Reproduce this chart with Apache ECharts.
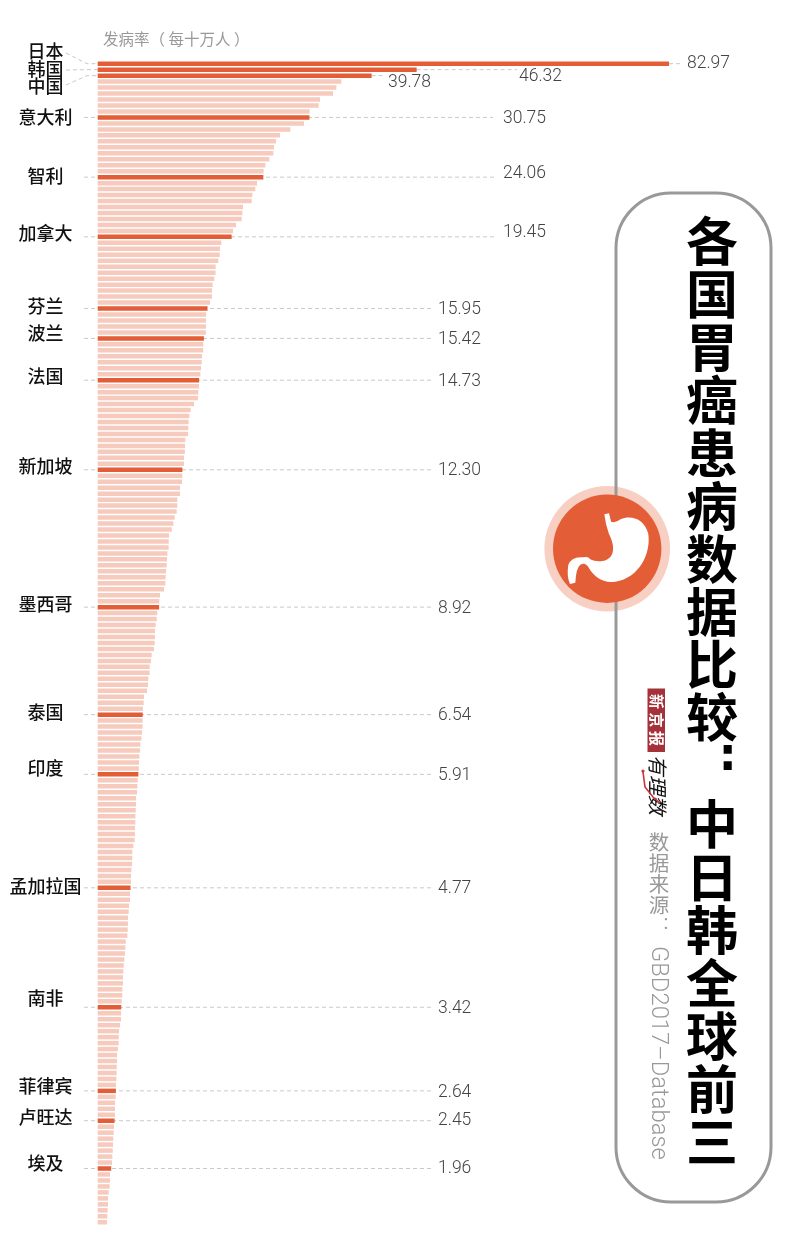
<!DOCTYPE html>
<html>
<head>
<meta charset="utf-8">
<title>各国胃癌患病数据比较</title>
<script src="https://cdn.jsdelivr.net/npm/echarts@6/dist/echarts.min.js"></script>
<style>
  html, body { margin: 0; padding: 0; background: #fff; }
  #chart { width: 800px; height: 1255px; }
</style>
</head>
<body>
<div id="chart"></div>
<script>
// incidence per 100k, one value per country row
const rates = [
  82.97, 46.32, 39.78, 35.38, 34.66, 34.17, 32.28, 32.09, 30.78, 30.75,
  29.96, 27.97, 26.47, 25.90, 25.60, 25.50, 24.93, 24.35, 24.10, 24.06,
  23.14, 22.89, 22.46, 22.36, 21.10, 21.01, 20.91, 20.09, 19.65, 19.45,
  17.96, 17.76, 17.72, 17.52, 17.13, 17.12, 16.94, 16.70, 16.60, 16.59,
  16.31, 15.95, 15.75, 15.73, 15.72, 15.70, 15.42, 15.34, 15.32, 15.15,
  15.10, 15.00, 14.91, 14.73, 14.71, 14.62, 14.57, 13.99, 13.50, 13.31,
  13.21, 13.17, 13.12, 12.73, 12.68, 12.66, 12.54, 12.52, 12.30, 12.29,
  12.25, 11.96, 11.95, 11.57, 11.56, 11.47, 11.18, 10.99, 10.75, 10.36,
  10.31, 10.30, 10.12, 10.07, 10.02, 9.92, 9.87, 9.83, 9.63, 9.05,
  8.95, 8.92, 8.66, 8.57, 8.42, 8.33, 8.32, 8.28, 8.18, 7.84,
  7.74, 7.55, 7.54, 7.36, 7.31, 7.16, 6.73, 6.68, 6.58, 6.54,
  6.53, 6.52, 6.44, 6.34, 6.20, 6.15, 6.05, 6.00, 5.98, 5.91,
  5.81, 5.76, 5.71, 5.57, 5.56, 5.52, 5.47, 5.46, 5.42, 5.41,
  5.37, 5.18, 5.03, 5.02, 4.99, 4.89, 4.84, 4.83, 4.77, 4.70,
  4.69, 4.55, 4.50, 4.40, 4.39, 4.36, 4.31, 4.07, 4.02, 3.97,
  3.87, 3.78, 3.73, 3.68, 3.66, 3.58, 3.57, 3.48, 3.42, 3.39,
  3.38, 3.24, 3.10, 3.05, 3.04, 2.95, 2.81, 2.80, 2.76, 2.75,
  2.71, 2.66, 2.64, 2.61, 2.52, 2.51, 2.50, 2.45, 2.37, 2.32,
  2.27, 2.23, 2.18, 2.13, 2.08, 1.96, 1.79, 1.78, 1.74, 1.60,
  1.50, 1.49, 1.45, 1.40, 1.36
];
const rowIds = rates.map((_, i) => i);

// the countries that get a name and a number
const namedCountries = ['日本', '韩国', '中国', '意大利', '智利', '加拿大', '芬兰', '波兰', '法国', '新加坡',
  '墨西哥', '泰国', '印度', '孟加拉国', '南非', '菲律宾', '卢旺达', '埃及'];
const namedRows = [0, 1, 2, 9, 19, 29, 41, 46, 53, 68, 91, 109, 119, 138, 158, 172, 177, 185];
const namedLabels = ['82.97', '46.32', '39.78', '30.75', '24.06', '19.45', '15.95', '15.42', '14.73', '12.30',
  '8.92', '6.54', '5.91', '4.77', '3.42', '2.64', '2.45', '1.96'];

const titleTop = '各国胃癌患病数据比较';
const titleBottom = '中日韩全球前三';
const unitText = '发病率（ 每十万人 ）';
const sourceHead = '数据来源';
const sourceBody = 'GBD2017–Database';

// layout in page pixels
const ORANGE = '#e35d36';
const PALE = '#f6cabd';
const GRID_LEFT = 97.7;
const GRID_TOP = 60.7;
const ROW_H = 5.972;
const PX_PER_UNIT = 6.886;
const LEFT_X = 84;
const NAME_X = 45.5;
const NUM_FONT = 'Roboto, "Liberation Sans", sans-serif';
const CJK_FONT = '"Noto Sans CJK SC", sans-serif';

// name and number sit a little off the bar on some rows
const nameDy = [-13, -1, 11, 0, -1, -4, -2, -5, -4, -4, -3, -2, -6, -2, -9, -5, -4, -5];
const numDy = [0, 7, 7, 1, -4, -4, 1, 1, 1, 1, 1, 1, 1, 1, 1, 2, 0, 0];
const numX = [687, 519, 388, 503, 503, 503, 438, 438, 438, 438, 438, 438, 438, 438, 438, 438, 438, 438];
const lineEnd = [683, 517, 385, 493, 497, 497, 432, 432, 432, 432, 432, 432, 432, 432, 432, 432, 432, 432];
const topLeaderStart = [[66, 53], [66, 70], [66, 85]];

const dashed = { stroke: '#c9c9c9', lineWidth: 1, lineDash: [4, 3], fill: null };

const stomachPath = 'M192 103 L206 100 L212 125 Q225 130 240 118 C270 105 310 115 322 160 C332 220 295 295 225 305 C190 312 160 290 145 262 Q135 245 120 255 Q108 265 106 308 L90 312 Q80 290 85 255 Q95 228 130 232 Q145 228 150 238 C165 245 195 250 212 228 C225 210 215 180 205 160 Q195 130 192 103 Z';

function renderNamed(params, api) {
  const i = api.value(2);
  const y = api.coord([0, api.value(1)])[1];
  const x0 = api.coord([0, 0])[0];
  const barEnd = api.coord([api.value(0), 0])[0];
  const kids = [];

  if (i < 3) {
    kids.push({ type: 'polyline', shape: { points: [topLeaderStart[i], [87, y], [x0, y]] }, style: dashed });
    kids.push({ type: 'line', shape: { x1: barEnd, y1: y, x2: lineEnd[i], y2: y }, style: dashed });
  } else {
    kids.push({ type: 'line', shape: { x1: LEFT_X, y1: y, x2: lineEnd[i], y2: y }, style: dashed });
  }
  kids.push({
    type: 'text',
    style: { text: namedCountries[i], x: NAME_X, y: y + nameDy[i], align: 'center', verticalAlign: 'middle',
      fill: '#111', fontSize: 18, fontFamily: CJK_FONT, fontWeight: 500 }
  });
  kids.push({
    type: 'text',
    style: { text: namedLabels[i], x: numX[i], y: y + numDy[i], align: 'left', verticalAlign: 'middle',
      fill: '#444', fontSize: 17.5, fontFamily: NUM_FONT, fontWeight: 300 }
  });
  return { type: 'group', children: kids };
}

// the graphic component has no path shape, so the icon goes through a custom series
function renderStomach() {
  return {
    type: 'path',
    shape: { pathData: stomachPath, x: 567.7, y: 513.3, width: 81, height: 70.7, layout: 'cover' },
    style: { fill: '#fff' }
  };
}

const chart = echarts.init(document.getElementById('chart'), null, { renderer: 'canvas' });

chart.setOption({
  animation: false,
  backgroundColor: '#fff',
  grid: { left: GRID_LEFT, top: GRID_TOP, width: PX_PER_UNIT * 100, height: ROW_H * rates.length },
  xAxis: { type: 'value', min: 0, max: 100, show: false },
  yAxis: { type: 'category', inverse: true, data: rowIds, show: false },
  series: [
    {
      type: 'custom',
      z: 1,
      silent: true,
      renderItem: renderNamed,
      encode: { x: 0, y: 1 },
      data: namedRows.map((row, i) => [rates[row], row, i])
    },
    {
      type: 'bar',
      z: 2,
      silent: true,
      barWidth: 4.5,
      data: rates.map((v, i) => ({
        value: v,
        itemStyle: { color: namedRows.includes(i) ? ORANGE : PALE }
      }))
    },
    {
      type: 'custom',
      z: 8,
      silent: true,
      renderItem: renderStomach,
      data: [[0, 0]]
    }
  ],
  graphic: [
    { type: 'text', z: 5, style: { text: unitText, x: 103, y: 39, verticalAlign: 'middle', fill: '#999',
        fontSize: 15.5, fontFamily: CJK_FONT } },

    // capsule and stomach badge
    { type: 'circle', z: 5, shape: { cx: 607.2, cy: 548.8, r: 62.8 }, style: { fill: '#f7cfc3' } },
    { type: 'rect', z: 6, shape: { x: 616, y: 193, width: 155, height: 1009, r: 55 },
      style: { fill: 'none', stroke: '#999', lineWidth: 3 } },
    { type: 'circle', z: 7, shape: { cx: 607.2, cy: 548.8, r: 54.2 }, style: { fill: ORANGE } },

    // headline, one upright character per line
    { type: 'text', z: 8, style: { text: titleTop.split('').join('\n'), x: 712, y: 215, align: 'center',
        fill: '#000', fontSize: 52, lineHeight: 52.9, fontWeight: 700, fontFamily: CJK_FONT } },
    { type: 'text', z: 8, style: { text: ':', x: 727.7, y: 758, align: 'center', verticalAlign: 'middle',
        fill: '#000', fontSize: 46, fontWeight: 700, fontFamily: '"DejaVu Sans", sans-serif' } },
    { type: 'text', z: 8, style: { text: titleBottom.split('').join('\n'), x: 712, y: 798, align: 'center',
        fill: '#000', fontSize: 52, lineHeight: 52.9, fontWeight: 700, fontFamily: CJK_FONT } },

    // newspaper logo
    { type: 'rect', z: 8, shape: { x: 647.5, y: 688.5, width: 17.5, height: 63.5 }, style: { fill: '#a5323a' } },
    { type: 'text', z: 9, x: 656.3, y: 720, rotation: -Math.PI / 2,
      style: { text: '新 京 报', align: 'center', verticalAlign: 'middle', fill: '#fff', fontSize: 15,
        fontWeight: 700, fontFamily: CJK_FONT } },
    { type: 'text', z: 9, x: 658, y: 785, rotation: -Math.PI / 2,
      style: { text: '有理数', align: 'center', verticalAlign: 'middle', fill: '#111', fontSize: 20,
        fontStyle: 'italic', fontFamily: CJK_FONT } },
    { type: 'polyline', z: 10, shape: { points: [[643, 772], [645, 787], [653, 797], [660, 803]] },
      style: { stroke: '#c8343a', lineWidth: 1.6, fill: null } },
    { type: 'circle', z: 10, shape: { cx: 643, cy: 771, r: 1.6 }, style: { fill: '#c8343a' } },

    // source
    { type: 'text', z: 8, style: { text: sourceHead.split('').join('\n'), x: 659, y: 832, align: 'center',
        fill: '#999', fontSize: 20.5, lineHeight: 21, fontFamily: CJK_FONT } },
    { type: 'text', z: 8, style: { text: ':', x: 666, y: 924, align: 'center', verticalAlign: 'middle',
        fill: '#999', fontSize: 20, fontFamily: NUM_FONT } },
    { type: 'text', z: 8, x: 657.5, y: 946, rotation: -Math.PI / 2,
      style: { text: sourceBody, align: 'left', verticalAlign: 'middle', fill: '#999', fontSize: 23.8,
        fontWeight: 300, fontFamily: NUM_FONT } }
  ]
});

window.addEventListener('resize', () => chart.resize());
</script>
</body>
</html>
